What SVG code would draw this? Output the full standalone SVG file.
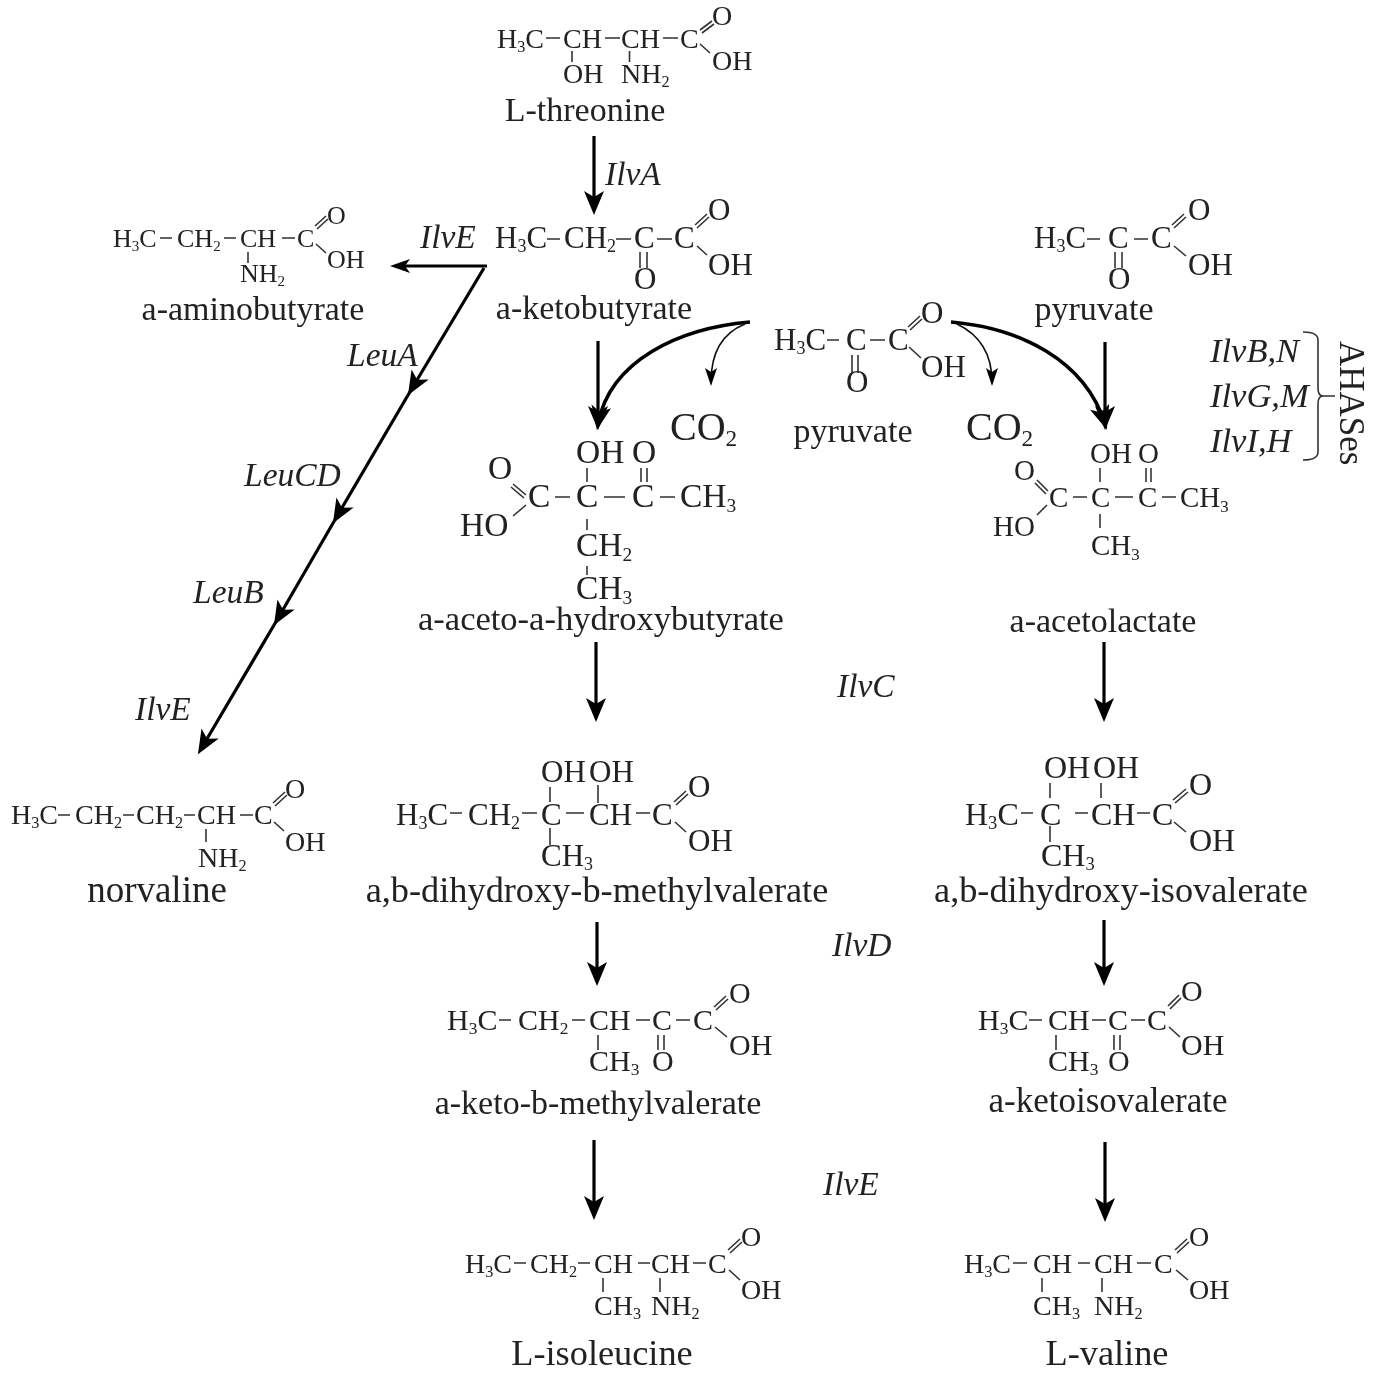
<svg xmlns="http://www.w3.org/2000/svg" width="1373" height="1379" viewBox="0 0 1373 1379">
<style>
text{font-family:"Liberation Serif","Times New Roman",serif;fill:#222}
.l{font-size:34px;text-anchor:middle}
.l36{font-size:36.300px}
.e{font-size:33.500px;font-style:italic}
.a{font-size:26px}.c{font-size:28px}.d{font-size:30px}.g{font-size:31px}.f{font-size:33.500px}
.s{font-size:58%}
.b{fill:none;stroke:#333;stroke-width:1.6}
.ar{fill:none;stroke:#000;stroke-width:3.2}
.th{fill:none;stroke:#000;stroke-width:3.6}
.tn{fill:none;stroke:#111;stroke-width:1.6}
</style>
<defs>
<marker id="h" viewBox="0 0 24 20" refX="18" refY="10" markerWidth="24" markerHeight="20" markerUnits="userSpaceOnUse" orient="auto"><path d="M0,0L24,10L0,20L6,10z" fill="#000"/></marker>
<marker id="m" viewBox="0 0 20 14" refX="15" refY="7" markerWidth="20" markerHeight="14" markerUnits="userSpaceOnUse" orient="auto"><path d="M0,0L20,7L0,14L5,7z" fill="#000"/></marker>
<marker id="t" viewBox="0 0 18 12" refX="14" refY="6" markerWidth="18" markerHeight="12" markerUnits="userSpaceOnUse" orient="auto"><path d="M0,0L18,6L0,12L4,6z" fill="#000"/></marker>
<filter id="soft" x="0" y="0" width="100%" height="100%"><feGaussianBlur stdDeviation="0.45"/></filter>
</defs>
<g filter="url(#soft)">
<g id="connectors">
<path class="ar" marker-end="url(#h)" d="M594,136V209"/>
<path class="ar" stroke-width="2.4" marker-end="url(#m)" d="M487,266H395"/>
<polyline class="ar" marker-mid="url(#h)" marker-end="url(#h)" points="484,268 411,390 336,518 277,620 201,749"/>
<path class="ar" marker-end="url(#h)" d="M598,341V424"/>
<path class="th" marker-end="url(#h)" d="M750,322C680,328 610,360 598,424"/>
<path class="tn" marker-end="url(#t)" d="M745,324C725,332 711,350 711,382"/>
<path class="th" marker-end="url(#h)" d="M951,322C1020,328 1085,360 1105,424"/>
<path class="tn" marker-end="url(#t)" d="M957,324C980,335 992,355 992,382"/>
<path class="ar" marker-end="url(#h)" d="M1105,342V424"/>
<path class="ar" marker-end="url(#h)" d="M596,642V716"/>
<path class="ar" marker-end="url(#h)" d="M1104,642V716"/>
<path class="ar" marker-end="url(#h)" d="M597,922V980"/>
<path class="ar" marker-end="url(#h)" d="M1104,920V980"/>
<path class="ar" marker-end="url(#h)" d="M594,1140V1214"/>
<path class="ar" marker-end="url(#h)" d="M1105,1142V1216"/>
</g>
<g id="threonine" class="c">
<path class="b" d="M546,38H560M605,38H620M663,38H678M700,30L712,21M702,33L714,24M700,44L710,53M572,51V62M629.500,51V62"/>
<text x="497" y="48">H<tspan class="s" dy="4">3</tspan><tspan dy="-4">C</tspan></text><text x="563" y="48">CH</text><text x="621" y="48">CH</text><text x="680" y="48">C</text>
<text x="712" y="25">O</text><text x="712" y="70">OH</text><text x="563" y="83">OH</text><text x="621" y="83">NH<tspan class="s" dy="4">2</tspan></text>
<text class="l" x="585" y="121">L-threonine</text>
</g>
<g id="ketobutyrate" class="g">
<path class="b" d="M547,239H560M616,239H631M657,239H672M695,225L707,214M697,228L709,217M697,246L707,255M640,252V268M647,252V268"/>
<text x="495" y="248">H<tspan class="s" dy="4">3</tspan><tspan dy="-4">C</tspan></text><text x="564" y="248">CH<tspan class="s" dy="4">2</tspan></text><text x="634" y="248">C</text><text x="674" y="248">C</text>
<text x="708" y="220">O</text><text x="708" y="275">OH</text><text x="634" y="289">O</text>
<text class="l" x="594" y="319">a-ketobutyrate</text>
</g>
<g id="aminobutyrate" class="a">
<path class="b" d="M160,238H172M224,238H236M282,238H295M315,226L326,216M317,229L328,219M316,244L326,253M248,252V263"/>
<text x="113" y="247">H<tspan class="s" dy="4">3</tspan><tspan dy="-4">C</tspan></text><text x="177" y="247">CH<tspan class="s" dy="4">2</tspan></text><text x="240" y="247">CH</text><text x="297" y="247">C</text>
<text x="327" y="224">O</text><text x="327" y="268">OH</text><text x="240" y="282">NH<tspan class="s" dy="4">2</tspan></text>
<text class="l" x="253" y="320">a-aminobutyrate</text>
</g>
<g id="pyruvate-top" class="g">
<path class="b" d="M1087,239H1100M1134,239H1148M1172,225L1184,214M1174,228L1186,217M1174,246L1186,256M1115,252V268M1122,252V268"/>
<text x="1034" y="248">H<tspan class="s" dy="4">3</tspan><tspan dy="-4">C</tspan></text><text x="1108" y="248">C</text><text x="1151" y="248">C</text>
<text x="1188" y="220">O</text><text x="1188" y="275">OH</text><text x="1108" y="289">O</text>
<text class="l" x="1094" y="320">pyruvate</text>
</g>
<g id="pyruvate-mid" class="g">
<path class="b" d="M827,340H839M870,340H885M908,327L920,316M910,330L922,319M909,347L921,358M852,355V373M858,355V373"/>
<text x="774" y="350">H<tspan class="s" dy="4">3</tspan><tspan dy="-4">C</tspan></text><text x="846" y="350">C</text><text x="888" y="350">C</text>
<text x="921" y="323">O</text><text x="921" y="377">OH</text><text x="846" y="392">O</text>
<text class="l" x="853" y="442">pyruvate</text>
</g>
<g id="co2-left"><text x="670" y="440" style="font-size:40px">CO<tspan class="s" dy="6">2</tspan></text></g>
<g id="co2-right"><text x="966" y="440" style="font-size:40px">CO<tspan class="s" dy="6">2</tspan></text></g>
<g id="hydroxybutyrate" class="f">
<path class="b" d="M555,497H570M604,497H625M660,497H675M587,468V482M587,519V530M587,566V575M641,468V482M647,468V482M513,484L526,495M511,487L524,498M513,516L526,505"/>
<text x="488" y="479">O</text><text x="528" y="507">C</text><text x="460" y="536">HO</text><text x="576" y="507">C</text><text x="632" y="507">C</text>
<text x="576" y="463">OH</text><text x="632" y="463">O</text><text x="680" y="507">CH<tspan class="s" dy="5">3</tspan></text><text x="576" y="556">CH<tspan class="s" dy="5">2</tspan></text><text x="576" y="599">CH<tspan class="s" dy="5">3</tspan></text>
<text class="l" x="601" y="630" style="font-size:34.500px">a-aceto-a-hydroxybutyrate</text>
</g>
<g id="acetolactate" style="font-size:29px">
<path class="b" d="M1073,497H1087M1115,497H1133M1162,497H1176M1100,468V482M1100,514V528M1146,468V482M1151,468V482M1037,480L1048,491M1035,483L1046,494M1037,515L1047,505"/>
<text x="1014" y="480">O</text><text x="1049" y="507">C</text><text x="993" y="536">HO</text><text x="1091" y="507">C</text><text x="1138" y="507">C</text>
<text x="1090" y="463">OH</text><text x="1138" y="463">O</text><text x="1180" y="507">CH<tspan class="s" dy="5">3</tspan></text><text x="1091" y="555">CH<tspan class="s" dy="5">3</tspan></text>
<text class="l" x="1103" y="632">a-acetolactate</text>
</g>
<g id="norvaline" class="c">
<path class="b" d="M58,815H70M123,815H134M184,815H195M240,815H253M273,803L285,792M275,806L287,795M274,822L284,831M206,829V842"/>
<text x="11" y="824">H<tspan class="s" dy="4">3</tspan><tspan dy="-4">C</tspan></text><text x="75" y="824">CH<tspan class="s" dy="4">2</tspan></text><text x="136" y="824">CH<tspan class="s" dy="4">2</tspan></text><text x="197" y="824">CH</text><text x="254" y="824">C</text>
<text x="285" y="798">O</text><text x="285" y="851">OH</text><text x="198" y="867">NH<tspan class="s" dy="4">2</tspan></text>
<text class="l l36" x="157" y="902" style="font-size:37px">norvaline</text>
</g>
<g id="methylvalerate-diol" style="font-size:31px">
<path class="b" d="M450,813H462M522,813H537M566,813H584M636,813H650M550,787V802M550,828V845M598,785V803M674,802L686,791M676,805L688,794M675,822L686,832"/>
<text x="396" y="825">H<tspan class="s" dy="4">3</tspan><tspan dy="-4">C</tspan></text><text x="468" y="825">CH<tspan class="s" dy="4">2</tspan></text><text x="541" y="825">C</text><text x="589" y="825">CH</text><text x="652" y="825">C</text>
<text x="688" y="797">O</text><text x="688" y="851">OH</text><text x="541" y="782">OH</text><text x="589" y="782">OH</text><text x="541" y="866">CH<tspan class="s" dy="4">3</tspan></text>
<text class="l l36" x="597" y="902">a,b-dihydroxy-b-methylvalerate</text>
</g>
<g id="isovalerate-diol" style="font-size:32px">
<path class="b" d="M1021,813H1033M1075,813H1088M1137,813H1150M1050,783V798M1050,826V842M1101,783V798M1173,800L1186,789M1175,803L1188,792M1174,822L1186,832"/>
<text x="965" y="825">H<tspan class="s" dy="4">3</tspan><tspan dy="-4">C</tspan></text><text x="1040" y="825">C</text><text x="1091" y="825">CH</text><text x="1152" y="825">C</text>
<text x="1189" y="795">O</text><text x="1189" y="851">OH</text><text x="1044" y="778">OH</text><text x="1093" y="778">OH</text><text x="1041" y="866">CH<tspan class="s" dy="4">3</tspan></text>
<text class="l l36" x="1121" y="902">a,b-dihydroxy-isovalerate</text>
</g>
<g id="keto-methylvalerate" class="d">
<path class="b" d="M499,1020H511M572,1020H585M636,1020H650M676,1020H690M598,1035V1050M658,1035V1050M664,1035V1050M714,1007L726,996M716,1010L728,999M715,1027L727,1037"/>
<text x="447" y="1030">H<tspan class="s" dy="4">3</tspan><tspan dy="-4">C</tspan></text><text x="518" y="1030">CH<tspan class="s" dy="4">2</tspan></text><text x="589" y="1030">CH</text><text x="652" y="1030">C</text><text x="693" y="1030">C</text>
<text x="729" y="1003">O</text><text x="729" y="1055">OH</text><text x="589" y="1071">CH<tspan class="s" dy="4">3</tspan></text><text x="652" y="1071">O</text>
<text class="l" x="598" y="1114">a-keto-b-methylvalerate</text>
</g>
<g id="ketoisovalerate" class="d">
<path class="b" d="M1029,1020H1042M1092,1020H1106M1131,1020H1145M1056,1035V1050M1114,1035V1050M1120,1035V1050M1168,1006L1179,995M1170,1009L1181,998M1169,1027L1180,1037"/>
<text x="978" y="1030">H<tspan class="s" dy="4">3</tspan><tspan dy="-4">C</tspan></text><text x="1048" y="1030">CH</text><text x="1108" y="1030">C</text><text x="1147" y="1030">C</text>
<text x="1181" y="1001">O</text><text x="1181" y="1055">OH</text><text x="1048" y="1071">CH<tspan class="s" dy="4">3</tspan></text><text x="1108" y="1071">O</text>
<text class="l" x="1108" y="1112" style="font-size:35px">a-ketoisovalerate</text>
</g>
<g id="isoleucine" class="c">
<path class="b" d="M514,1263H526M578,1263H590M638,1263H650M693,1263H706M603,1278V1292M660,1278V1292M728,1250L740,1239M730,1253L742,1242M729,1270L740,1280"/>
<text x="465" y="1273">H<tspan class="s" dy="4">3</tspan><tspan dy="-4">C</tspan></text><text x="530" y="1273">CH<tspan class="s" dy="4">2</tspan></text><text x="594" y="1273">CH</text><text x="651" y="1273">CH</text><text x="708" y="1273">C</text>
<text x="741" y="1246">O</text><text x="741" y="1299">OH</text><text x="594" y="1315">CH<tspan class="s" dy="4">3</tspan></text><text x="651" y="1315">NH<tspan class="s" dy="4">2</tspan></text>
<text class="l l36" x="602" y="1365">L-isoleucine</text>
</g>
<g id="valine" class="c">
<path class="b" d="M1013,1263H1027M1078,1263H1090M1137,1263H1151M1042,1278V1292M1102,1278V1292M1175,1250L1187,1239M1177,1253L1189,1242M1176,1270L1188,1280"/>
<text x="964" y="1273">H<tspan class="s" dy="4">3</tspan><tspan dy="-4">C</tspan></text><text x="1033" y="1273">CH</text><text x="1094" y="1273">CH</text><text x="1154" y="1273">C</text>
<text x="1189" y="1246">O</text><text x="1189" y="1299">OH</text><text x="1033" y="1315">CH<tspan class="s" dy="4">3</tspan></text><text x="1094" y="1315">NH<tspan class="s" dy="4">2</tspan></text>
<text class="l l36" x="1107" y="1365">L-valine</text>
</g>
<g id="enzymes">
<text class="e" x="605" y="185">IlvA</text><text class="e" x="420" y="248">IlvE</text><text class="e" x="347" y="366">LeuA</text><text class="e" x="244" y="486">LeuCD</text><text class="e" x="193" y="603">LeuB</text><text class="e" x="135" y="720">IlvE</text>
<text class="e" x="837" y="697">IlvC</text><text class="e" x="832" y="956">IlvD</text><text class="e" x="823" y="1195">IlvE</text>
</g>
<g id="ahases">
<path class="b" d="M1303,332Q1318,332 1318,340V388Q1318,396 1323,396H1335M1323,396Q1318,396 1318,404V452Q1318,460 1303,460"/>
<text class="e" x="1210" y="362" style="font-size:34.500px">IlvB,N</text><text class="e" x="1210" y="407" style="font-size:34.500px">IlvG,M</text><text class="e" x="1210" y="452" style="font-size:34.500px">IlvI,H</text>
<text transform="translate(1340,341) rotate(90)" style="font-size:35px">AHASes</text>
</g>
</g>
</svg>
